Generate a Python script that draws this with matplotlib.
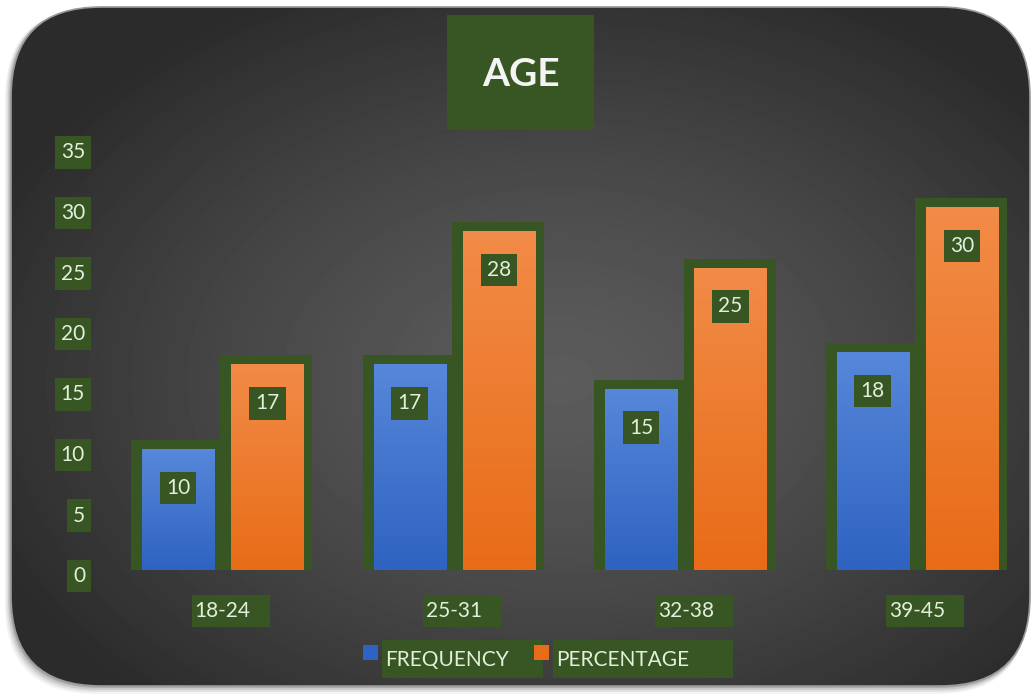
import numpy as np
import matplotlib
matplotlib.use("Agg")
import matplotlib.pyplot as plt
from matplotlib.patches import FancyBboxPatch, Rectangle
from matplotlib.transforms import blended_transform_factory

# ── data ──────────────────────────────────────────────
categories = ["18-24", "25-31", "32-38", "39-45"]
frequency = [10, 17, 15, 18]
percentage = [17, 28, 25, 30]
y_ticks = [0, 5, 10, 15, 20, 25, 30, 35]
series_names = ["FREQUENCY", "PERCENTAGE"]

# ── style ─────────────────────────────────────────────
W, H = 1032, 695
GREEN = "#375623"
TXT = "#e2efda"
BLUE_TOP, BLUE_BOT = "#5787da", "#2f63c1"
ORG_TOP, ORG_BOT = "#f28b47", "#e86c17"
FONT = "Lato"
FS = 15

plt.rcParams["font.family"] = [FONT, "DejaVu Sans"]

fig = plt.figure(figsize=(W / 100, H / 100), dpi=100)
fig.patch.set_facecolor("white")

# background layer in pixel coordinates
bg = fig.add_axes([0, 0, 1, 1])
bg.set_xlim(0, W)
bg.set_ylim(H, 0)
bg.axis("off")

# soft shadow around the card
for i, a in enumerate([0.05, 0.07, 0.10, 0.14]):
    off = 6 - i * 1.5
    sh = FancyBboxPatch((11 - off, 7 + off * 0.3), 1019 + off * 0.6, 679 + off,
                        boxstyle="round,pad=0,rounding_size=90",
                        fc="#000000", ec="none", alpha=a, zorder=0)
    bg.add_patch(sh)

card = FancyBboxPatch((11, 7), 1019, 679,
                      boxstyle="round,pad=0,rounding_size=90",
                      fc="none", ec="#9a9a9a", lw=1.2, zorder=2)
bg.add_patch(card)

# radial grey gradient
yy, xx = np.mgrid[0:H, 0:W]
r = np.sqrt(((xx - 560) / 620) ** 2 + ((yy - 380) / 430) ** 2)
r = np.clip(r, 0, 1)
shade = 0.36 - (0.36 - 0.17) * r ** 1.3
im = bg.imshow(shade, extent=(0, W, H, 0), cmap="gray", vmin=0, vmax=1,
               zorder=1, interpolation="bilinear")
im.set_clip_path(card)

# title
bg.add_patch(Rectangle((447, 15), 147, 115, fc=GREEN, ec="none", zorder=3))
bg.text(521, 75, "AGE", ha="center", va="center", fontsize=28,
        fontweight="bold", color="#f4f4f4", zorder=4)

# ── plot area ─────────────────────────────────────────
px_left, px_right, px_top, px_bot = 130, 1010, 146.5, 570
ax = fig.add_axes([px_left / W, (H - px_bot) / H,
                   (px_right - px_left) / W, (px_bot - px_top) / H])
ax.set_facecolor("none")
for s in ax.spines.values():
    s.set_visible(False)
ax.set_xticks([])
ax.set_yticks([])

x = np.arange(len(categories))
off = 0.193
bw = 0.311
gw = 0.397


def grad_bars(xpos, vals, top, bot):
    bars = ax.bar(xpos, vals, width=bw, color=bot, zorder=3)
    cmap = matplotlib.colors.LinearSegmentedColormap.from_list("g", [bot, top])
    grad = np.linspace(0, 1, 100).reshape(-1, 1)
    for b in bars:
        g = ax.imshow(grad, extent=(b.get_x(), b.get_x() + b.get_width(), 0,
                                    b.get_height()),
                      origin="lower", cmap=cmap, aspect="auto", zorder=4)
        g.set_clip_path(b)
    return bars


# green frame behind each bar
ax.bar(x - off - 0.004, np.array(frequency) + 0.74, width=gw, color=GREEN, zorder=2)
ax.bar(x + off - 0.004, np.array(percentage) + 0.74, width=gw, color=GREEN, zorder=2)
grad_bars(x - off, frequency, BLUE_TOP, BLUE_BOT)
grad_bars(x + off, percentage, ORG_TOP, ORG_BOT)

ax.set_xlim(-0.4, 3.4)
ax.set_ylim(0, 35)

box = dict(boxstyle="square,pad=0.3", fc=GREEN, ec="none")
for xs, vals in ((x - off, frequency), (x + off, percentage)):
    for xi, v in zip(xs, vals):
        ax.annotate(str(v), (xi, v), xytext=(0, -39), textcoords="offset pixels",
                    ha="center", va="center", fontsize=FS, color=TXT,
                    bbox=box, zorder=6)

# y tick labels
trans = blended_transform_factory(bg.transData, ax.transData)
for t in y_ticks:
    ax.annotate(str(t), (85, t), xycoords=trans, xytext=(0, -6),
                textcoords="offset pixels", ha="right", va="center",
                fontsize=FS, color=TXT, bbox=box, zorder=6,
                annotation_clip=False)

# x category labels (box wider on the right)
xlab = []
for xi, c in zip(x, categories):
    t = ax.annotate(c, (xi, 0), xytext=(0, -41), textcoords="offset pixels",
                    ha="center", va="center", fontsize=FS, color=TXT,
                    zorder=6, annotation_clip=False)
    xlab.append(t)

# legend
leg_colors = [BLUE_BOT, ORG_BOT]
leg_sq_x = [363, 534]
leg_txt_x = [385, 556]
leg_box_r = [543, 733]
for name, col, sx, tx, br in zip(series_names, leg_colors, leg_sq_x, leg_txt_x, leg_box_r):
    bg.add_patch(Rectangle((tx - 3, 640), br - tx + 3, 38, fc=GREEN, ec="none", zorder=3))
    bg.add_patch(Rectangle((sx, 645), 15, 15, fc=col, ec="none", zorder=4))
    bg.text(tx, 660, name, ha="left", va="center", fontsize=FS, color=TXT, zorder=5)

fig.canvas.draw()
rend = fig.canvas.get_renderer()
inv = bg.transData.inverted()
for t in xlab:
    e = t.get_window_extent(rend)
    (x0, y0), (x1, y1) = inv.transform([(e.x0, e.y0), (e.x1, e.y1)])
    top, bot = min(y0, y1), max(y0, y1)
    bg.add_patch(Rectangle((x0 - 3, top - 6), (x1 - x0) + 22, (bot - top) + 12,
                           fc=GREEN, ec="none", zorder=3))

fig.savefig("out.png", dpi=100, facecolor="white")
